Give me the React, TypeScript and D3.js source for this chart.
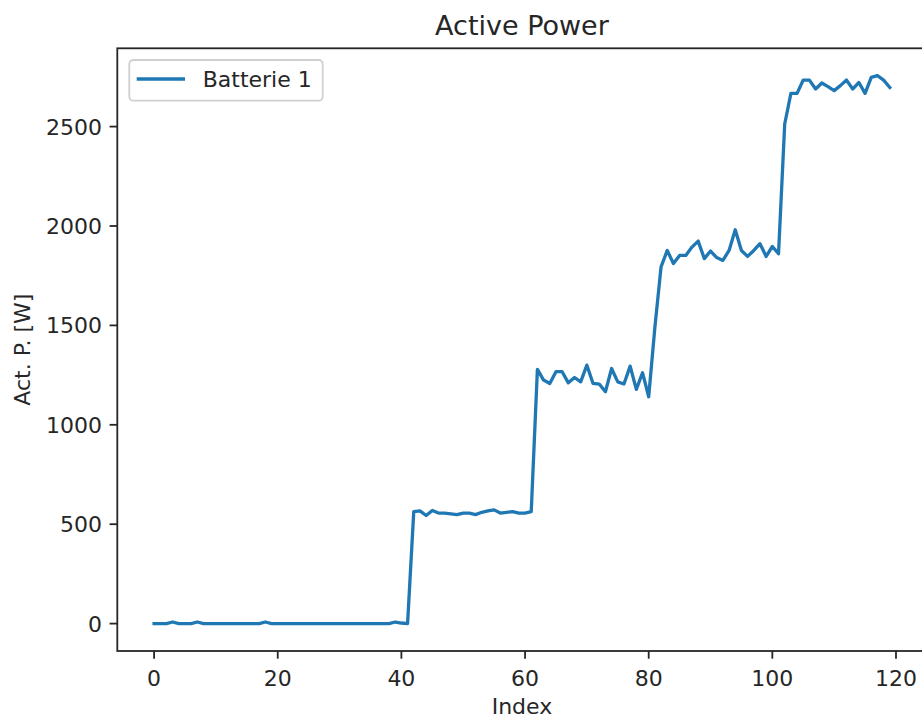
import React from "react";
import * as d3 from "d3";

const seriesName = "Batterie 1";
const titleText = "Active Power";
const xLabel = "Index";
const yLabel = "Act. P. [W]";

const values: number[] = [
  // 0-41
  0, 0, 0, 8, 0, 0, 0, 8, 0, 0,
  0, 0, 0, 0, 0, 0, 0, 0, 8, 0,
  0, 0, 0, 0, 0, 0, 0, 0, 0, 0,
  0, 0, 0, 0, 0, 0, 0, 0, 0, 8,
  3, 0,
  // 42-61
  563, 567, 544, 569, 556, 556, 552, 548, 556, 556,
  548, 560, 567, 572, 556, 560, 563, 556, 556, 563,
  // 62-80
  1279, 1225, 1208, 1267, 1267, 1211, 1238, 1216, 1300, 1208,
  1205, 1166, 1283, 1216, 1205, 1295, 1178, 1262, 1141,
  // 81-101
  1490, 1794, 1877, 1811, 1852, 1852, 1894, 1924, 1836, 1874,
  1841, 1827, 1877, 1981, 1877, 1847, 1877, 1911, 1847, 1897,
  1861,
  // 102-119
  2513, 2667, 2667, 2734, 2734, 2689, 2719, 2701, 2681, 2706,
  2734, 2689, 2722, 2667, 2748, 2756, 2734, 2697,
];

const xTicks = [0, 20, 40, 60, 80, 100, 120];
const yTicks = [0, 500, 1000, 1500, 2000, 2500];

const FONT = "'DejaVu Sans', sans-serif";
const W = 922;
const H = 720;
const plotLeft = 117.3;
const plotRight = 926.6;
const plotTop = 48.3;
const plotBottom = 651;
const tickLen = 7.7;
const tickPad = 7.7;
const tickFont = 22;

export default function App() {
  const n = values.length;
  const xMin = 0;
  const xMax = n - 1;
  const xm = (xMax - xMin) * 0.05;
  const yMin = d3.min(values)!;
  const yMax = d3.max(values)!;
  const ym = (yMax - yMin) * 0.05;

  const x = d3.scaleLinear().domain([xMin - xm, xMax + xm]).range([plotLeft, plotRight]);
  const y = d3.scaleLinear().domain([yMin - ym, yMax + ym]).range([plotBottom, plotTop]);

  const line = d3
    .line<number>()
    .x((_, i) => x(i))
    .y((d) => y(d));

  const axisColor = "#262626";

  return (
    <svg
      width={W}
      height={H}
      viewBox={`0 0 ${W} ${H}`}
      style={{ position: "absolute", left: 0, top: 0, background: "#fff" }}
    >
      <defs>
        <clipPath id="plotclip">
          <rect x={plotLeft} y={plotTop} width={plotRight - plotLeft} height={plotBottom - plotTop} />
        </clipPath>
      </defs>
      <rect x={0} y={0} width={W} height={H} fill="#fff" />

      {/* data line */}
      <path
        d={line(values) ?? ""}
        fill="none"
        stroke="#1f77b4"
        strokeWidth={3.3}
        strokeLinejoin="round"
        strokeLinecap="square"
        clipPath="url(#plotclip)"
      />

      {/* spines */}
      <rect
        x={plotLeft}
        y={plotTop}
        width={plotRight - plotLeft}
        height={plotBottom - plotTop}
        fill="none"
        stroke={axisColor}
        strokeWidth={1.8}
      />

      {/* x ticks */}
      {xTicks.map((t) => (
        <g key={`xt${t}`}>
          <line
            x1={x(t)}
            x2={x(t)}
            y1={plotBottom}
            y2={plotBottom + tickLen}
            stroke={axisColor}
            strokeWidth={1.8}
          />
          <text
            x={x(t)}
            y={686}
            textAnchor="middle"
            fontFamily={FONT}
            fontSize={tickFont}
            fill="#262626"
          >
            {t}
          </text>
        </g>
      ))}

      {/* y ticks */}
      {yTicks.map((t) => (
        <g key={`yt${t}`}>
          <line
            x1={plotLeft - tickLen}
            x2={plotLeft}
            y1={y(t)}
            y2={y(t)}
            stroke={axisColor}
            strokeWidth={1.8}
          />
          <text
            x={plotLeft - tickLen - tickPad}
            y={y(t) + 8}
            textAnchor="end"
            fontFamily={FONT}
            fontSize={tickFont}
            fill="#262626"
          >
            {t}
          </text>
        </g>
      ))}

      {/* title */}
      <text
        x={(plotLeft + plotRight) / 2}
        y={35}
        textAnchor="middle"
        fontFamily={FONT}
        fontSize={27}
        fill="#262626"
      >
        {titleText}
      </text>

      {/* axis labels */}
      <text
        x={(plotLeft + plotRight) / 2}
        y={714}
        textAnchor="middle"
        fontFamily={FONT}
        fontSize={tickFont}
        fill="#262626"
      >
        {xLabel}
      </text>
      <text
        transform={`translate(30, ${(plotTop + plotBottom) / 2}) rotate(-90)`}
        textAnchor="middle"
        fontFamily={FONT}
        fontSize={tickFont}
        fill="#262626"
      >
        {yLabel}
      </text>

      {/* legend */}
      <g>
        <rect
          x={129.3}
          y={60}
          width={193.4}
          height={40.7}
          rx={4}
          ry={4}
          fill="#fff"
          fillOpacity={0.8}
          stroke="#d0d0d0"
          strokeWidth={1.8}
        />
        <line x1={136.7} x2={185} y1={79} y2={79} stroke="#1f77b4" strokeWidth={3.3} />
        <text x={202.7} y={87} fontFamily={FONT} fontSize={tickFont} fill="#262626">
          {seriesName}
        </text>
      </g>
    </svg>
  );
}
